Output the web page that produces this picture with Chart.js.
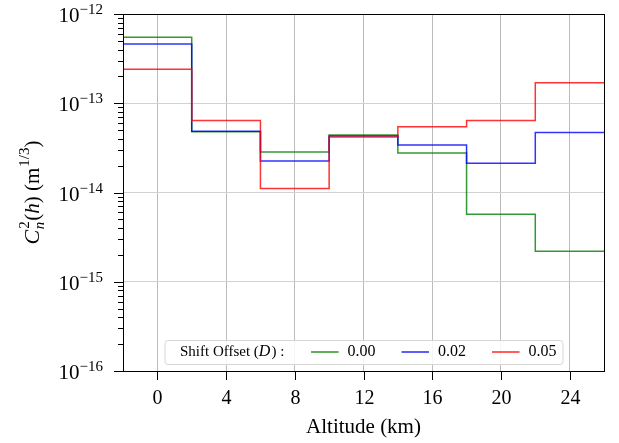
<!DOCTYPE html>
<html>
<head>
<meta charset="utf-8">
<script src="https://cdn.jsdelivr.net/npm/chart.js@4.4.1/dist/chart.umd.min.js"></script>
<style>
  html, body { margin: 0; padding: 0; background: #fff; }
  canvas { display: block; }
</style>
</head>
<body>
<canvas id="chart" width="619" height="443"></canvas>
<script>
// bin centres (km) and Cn2 values
const altitudes = [0, 4, 8, 12, 16, 20, 24];
const binWidth = 4;
const cn2_000 = [5.5e-13, 4.8e-14, 2.84e-14, 4.4e-14, 2.77e-14, 5.7e-15, 2.2e-15];
const cn2_002 = [4.6e-13, 4.85e-14, 2.26e-14, 4.3e-14, 3.4e-14, 2.12e-14, 4.7e-14];
const cn2_005 = [2.4e-13, 6.4e-14, 1.11e-14, 4.2e-14, 5.45e-14, 6.4e-14, 1.7e-13];
const offsetLabels = ['0.00', '0.02', '0.05'];
const lineColors = ['rgba(0,128,0,0.8)', 'rgba(0,0,255,0.8)', 'rgba(255,0,0,0.8)'];
const xTicks = [0, 4, 8, 12, 16, 20, 24];
const yDecades = [-16, -15, -14, -13, -12];

const SERIF = '"Liberation Serif", "DejaVu Serif", serif';

function stepPoints(vals) {
  const pts = altitudes.map((a, i) => ({ x: a - binWidth / 2, y: vals[i] }));
  pts.push({ x: altitudes[altitudes.length - 1] + binWidth / 2, y: vals[vals.length - 1] });
  return pts;
}

const series = [cn2_000, cn2_002, cn2_005];

// draw a run of text pieces with their own font / vertical shift
function richText(ctx, parts, x, y) {
  let cx = x;
  parts.forEach(p => {
    ctx.font = p.font;
    ctx.fillText(p.text, cx, y + (p.dy || 0));
    cx += ctx.measureText(p.text).width + (p.kern || 0);
  });
  return cx - x;
}
function richWidth(ctx, parts) {
  let w = 0;
  parts.forEach(p => { ctx.font = p.font; w += ctx.measureText(p.text).width + (p.kern || 0); });
  return w;
}

const axesPlugin = {
  id: 'axesDecor',
  afterDraw(chart) {
    const ctx = chart.ctx;
    const area = chart.chartArea;
    const xs = chart.scales.x, ys = chart.scales.y;
    ctx.save();
    ctx.strokeStyle = '#000';
    ctx.fillStyle = '#000';
    ctx.lineWidth = 1;

    // frame
    ctx.strokeRect(Math.round(area.left) + 0.5, Math.round(area.top) + 0.5,
      Math.round(area.right - area.left), Math.round(area.bottom - area.top));

    // x ticks + labels
    ctx.textAlign = 'center';
    ctx.textBaseline = 'middle';
    ctx.font = '20px ' + SERIF;
    xTicks.forEach(v => {
      const px = Math.round(xs.getPixelForValue(v)) + 0.5;
      ctx.beginPath();
      ctx.moveTo(px, area.bottom);
      ctx.lineTo(px, area.bottom + 9);
      ctx.stroke();
      ctx.fillText(String(v), px, area.bottom + 28);
    });

    // y major/minor ticks + labels
    yDecades.forEach(e => {
      const py = Math.round(ys.getPixelForValue(Math.pow(10, e))) + 0.5;
      ctx.beginPath();
      ctx.moveTo(area.left - 9, py);
      ctx.lineTo(area.left, py);
      ctx.stroke();
      if (e < yDecades[yDecades.length - 1]) {
        for (let m = 2; m <= 9; m++) {
          const my = Math.round(ys.getPixelForValue(m * Math.pow(10, e))) + 0.5;
          ctx.beginPath();
          ctx.moveTo(area.left - 5, my);
          ctx.lineTo(area.left, my);
          ctx.stroke();
        }
      }
      const parts = [
        { text: '10', font: '21px ' + SERIF },
        { text: '\u2212' + Math.abs(e), font: '15px ' + SERIF, dy: -8 }
      ];
      ctx.textAlign = 'left';
      ctx.textBaseline = 'alphabetic';
      const w = richWidth(ctx, parts);
      richText(ctx, parts, area.left - 20 - w, py + 7);
    });

    // x title
    ctx.textAlign = 'center';
    ctx.textBaseline = 'middle';
    ctx.font = '21px ' + SERIF;
    ctx.fillText('Altitude (km)', (area.left + area.right) / 2, 427);

    // y title, rotated
    const yt = [
      { text: 'C', font: 'italic 22px ' + SERIF, kern: 1 },
      { text: '2', font: '15px ' + SERIF, dy: -10, kern: -8 },
      { text: 'n', font: 'italic 15px ' + SERIF, dy: 5, kern: 1 },
      { text: '(', font: '21px ' + SERIF },
      { text: 'h', font: 'italic 21px ' + SERIF },
      { text: ')', font: '21px ' + SERIF },
      { text: ' (m', font: '21px ' + SERIF, kern: 1 },
      { text: '1/3', font: '15px ' + SERIF, dy: -10 },
      { text: ')', font: '21px ' + SERIF }
    ];
    ctx.save();
    ctx.translate(39, (area.top + area.bottom) / 2);
    ctx.rotate(-Math.PI / 2);
    ctx.textAlign = 'left';
    ctx.textBaseline = 'alphabetic';
    const tw = richWidth(ctx, yt);
    richText(ctx, yt, -tw / 2, 0);
    ctx.restore();

    // legend, lower centre, one row
    const titleParts = [
      { text: 'Shift Offset (', font: '15px ' + SERIF },
      { text: 'D', font: 'italic 16px ' + SERIF, kern: 1 },
      { text: ') :', font: '15px ' + SERIF }
    ];
    const itemFont = '16px ' + SERIF;
    const titleW = richWidth(ctx, titleParts);
    ctx.font = itemFont;
    const itemW = offsetLabels.map(t => ctx.measureText(t).width);
    const handle = 27.5, gapH = 9, gapItem = 26, padL = 15.5, padR = 6;
    let total = padL + titleW + 26.7 + padR;
    itemW.forEach((w, i) => { total += handle + gapH + w + (i < itemW.length - 1 ? gapItem : 0); });
    const bx = (area.left + area.right) / 2 - total / 2;
    const by = 340, bh = 24;
    ctx.beginPath();
    if (ctx.roundRect) ctx.roundRect(bx + 0.5, by + 0.5, total, bh, 3);
    else ctx.rect(bx + 0.5, by + 0.5, total, bh);
    ctx.fillStyle = 'rgba(255,255,255,0.85)';
    ctx.fill();
    ctx.strokeStyle = '#d6d6d6';
    ctx.stroke();
    ctx.fillStyle = '#000';
    const cy = by + bh / 2;
    ctx.textAlign = 'left';
    ctx.textBaseline = 'middle';
    let cx = bx + padL;
    cx += richText(ctx, titleParts, cx, cy) + 26.7;
    chart.data.datasets.forEach((ds, i) => {
      ctx.strokeStyle = ds.borderColor;
      ctx.lineWidth = 1.6;
      ctx.beginPath();
      ctx.moveTo(cx, cy);
      ctx.lineTo(cx + handle, cy);
      ctx.stroke();
      cx += handle + gapH;
      ctx.font = itemFont;
      ctx.fillStyle = '#000';
      ctx.fillText(ds.label, cx, cy);
      cx += itemW[i] + gapItem;
    });
    ctx.restore();
  }
};

new Chart(document.getElementById('chart').getContext('2d'), {
  type: 'line',
  data: {
    datasets: series.map((vals, i) => ({
      label: offsetLabels[i],
      data: stepPoints(vals),
      borderColor: lineColors[i],
      borderWidth: 1.5,
      pointRadius: 0,
      fill: false,
      stepped: true,
      order: series.length - i
    }))
  },
  options: {
    responsive: false,
    animation: false,
    layout: { padding: { left: 123, top: 14, right: 15, bottom: 72 } },
    plugins: { legend: { display: false }, tooltip: { enabled: false } },
    scales: {
      x: {
        type: 'linear',
        min: -2,
        max: 26,
        ticks: { display: false },
        grid: { color: '#bcbcbc', lineWidth: 1, drawTicks: false },
        border: { display: false },
        afterBuildTicks: s => { s.ticks = xTicks.map(v => ({ value: v })); },
        afterFit: s => { s.height = 0; }
      },
      y: {
        type: 'logarithmic',
        min: 1e-16,
        max: 1e-12,
        ticks: { display: false },
        grid: { color: '#d2d2d2', lineWidth: 1, drawTicks: false },
        border: { display: false },
        afterBuildTicks: s => { s.ticks = yDecades.map(e => ({ value: Math.pow(10, e), major: true })); },
        afterFit: s => { s.width = 0; }
      }
    }
  },
  plugins: [axesPlugin]
});
</script>
</body>
</html>
